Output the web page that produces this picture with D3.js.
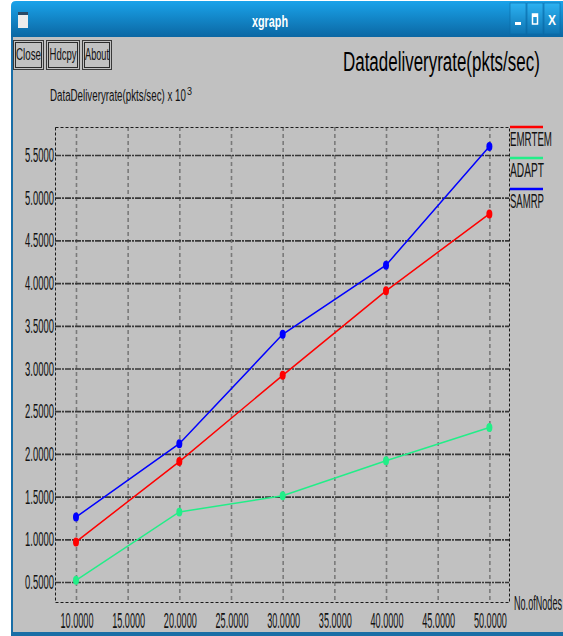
<!DOCTYPE html>
<html>
<head>
<meta charset="utf-8">
<script src="https://cdn.jsdelivr.net/npm/d3@7"></script>
<style>
  html, body { margin: 0; padding: 0; background: #fff; }
  svg { display: block; }
  text { font-family: "Liberation Sans", Arial, sans-serif; }
</style>
</head>
<body>
<div id="chart"></div>
<script>
// ---- data ----
const nodes = [10, 20, 30, 40, 50];
const emrtem = [0.97, 1.91, 2.92, 3.91, 4.81];
const adapt = [0.52, 1.32, 1.51, 1.92, 2.31];
const samrp = [1.26, 2.12, 3.40, 4.21, 5.60];
const seriesNames = ["EMRTEM", "ADAPT", "SAMRP"];
const seriesColors = ["#ff0000", "#22ee88", "#0000ff"];
const xTicks = [10, 15, 20, 25, 30, 35, 40, 45, 50];
const yTicks = [0.5, 1.0, 1.5, 2.0, 2.5, 3.0, 3.5, 4.0, 4.5, 5.0, 5.5];

const W = 563, H = 636;
const plot = { left: 55, right: 509, top: 127, bottom: 602 };

const svg = d3.select("#chart").append("svg")
  .attr("width", W).attr("height", H);

// xgraph uses a narrow bitmap font: draw normal text and squeeze it horizontally
function narrowText(parent, x, y, str, size, width, anchor = "start", color = "#111", weight = "normal") {
  const t = parent.append("text")
    .attr("text-anchor", anchor)
    .attr("font-size", size)
    .attr("font-weight", weight)
    .attr("fill", color)
    .text(str);
  const w = t.node().getComputedTextLength();
  t.attr("transform", `translate(${x},${y}) scale(${width / w},1)`);
  return t;
}

// ========== window frame ==========
const defs = svg.append("defs");
const tg = defs.append("linearGradient").attr("id", "titlebar")
  .attr("x1", 0).attr("y1", 0).attr("x2", 0).attr("y2", 1);
tg.append("stop").attr("offset", "0%").attr("stop-color", "#1aa3ea");
tg.append("stop").attr("offset", "100%").attr("stop-color", "#0b67a3");
const bg = defs.append("linearGradient").attr("id", "tbbtn")
  .attr("x1", 0).attr("y1", 0).attr("x2", 0).attr("y2", 1);
bg.append("stop").attr("offset", "0%").attr("stop-color", "#2cb2f2");
bg.append("stop").attr("offset", "100%").attr("stop-color", "#0e74b2");

svg.append("rect").attr("x", 11).attr("y", 36).attr("width", W - 11).attr("height", H - 36)
  .attr("fill", "#1a6ea6");
svg.append("rect").attr("x", 13).attr("y", 37).attr("width", W - 13).attr("height", 595)
  .attr("fill", "#c1c1c1");
svg.append("path")
  .attr("d", `M11,37 L11,6 Q11,1 16,1 L${W},1 L${W},37 Z`)
  .attr("fill", "url(#titlebar)");

// title bar widgets
svg.append("rect").attr("x", 18).attr("y", 12).attr("width", 10).attr("height", 16).attr("fill", "#ececec");
svg.append("rect").attr("x", 18).attr("y", 12).attr("width", 10).attr("height", 3).attr("fill", "#2a4a66");
narrowText(svg, 270, 27, "xgraph", 17, 36, "middle", "#fff", "bold");
[510, 527, 544].forEach(bx => {
  svg.append("rect").attr("x", bx).attr("y", 3).attr("width", 16).attr("height", 31)
    .attr("fill", "url(#tbbtn)").attr("stroke", "#0d6aa5").attr("stroke-width", 0.6);
});
svg.append("rect").attr("x", 515).attr("y", 22).attr("width", 6).attr("height", 3).attr("fill", "#fff");
svg.append("rect").attr("x", 532.5).attr("y", 14).attr("width", 5).attr("height", 10)
  .attr("fill", "none").attr("stroke", "#fff").attr("stroke-width", 1.5);
svg.append("rect").attr("x", 532.5).attr("y", 14).attr("width", 5).attr("height", 3).attr("fill", "#fff");
narrowText(svg, 552, 25, "X", 14, 8, "middle", "#fff", "bold");

// ========== xgraph buttons ==========
const buttons = [
  { label: "Close", x: 13, w: 30, tl: 25 },
  { label: "Hdcpy", x: 46, w: 33, tl: 27 },
  { label: "About", x: 82, w: 29, tl: 24 }
];
buttons.forEach(b => {
  svg.append("rect").attr("x", b.x + 0.5).attr("y", 40.5).attr("width", b.w).attr("height", 29)
    .attr("fill", "none").attr("stroke", "#3a3a3a");
  svg.append("rect").attr("x", b.x + 2.5).attr("y", 42.5).attr("width", b.w - 4).attr("height", 25)
    .attr("fill", "none").attr("stroke", "#2a2a2a");
  narrowText(svg, b.x + b.w / 2 + 0.5, 60, b.label, 16, b.tl, "middle");
});

// ========== titles ==========
narrowText(svg, 343, 71, "Datadeliveryrate(pkts/sec)", 28, 197, "start", "#000");
narrowText(svg, 50, 101, "DataDeliveryrate(pkts/sec) x 10", 17, 136);
narrowText(svg, 187, 95, "3", 11, 5);

// ========== scales ==========
const x = d3.scaleLinear().domain([7.97, 51.9]).range([plot.left, plot.right]);
const y = d3.scaleLinear().domain([0.266, 5.828]).range([plot.bottom, plot.top]);
const fmt = d3.format(".4f");

// vertical grid (light gray dashes)
svg.append("g")
  .attr("transform", `translate(0,${plot.top})`)
  .call(d3.axisBottom(x).tickValues(xTicks).tickSize(plot.bottom - plot.top).tickFormat(""))
  .call(g => g.select(".domain").remove())
  .call(g => g.selectAll("line")
    .attr("stroke", "#7a7a7a").attr("stroke-width", 1.6).attr("stroke-dasharray", "4,3"));

// horizontal grid (dark dash-dot)
svg.append("g")
  .attr("transform", `translate(${plot.left},0)`)
  .call(d3.axisRight(y).tickValues(yTicks).tickSize(plot.right - plot.left).tickFormat(""))
  .call(g => g.select(".domain").remove())
  .call(g => g.selectAll("line")
    .attr("stroke", "#383838").attr("stroke-width", 1.7).attr("stroke-dasharray", "6,1,2,1"));

// plot frame
svg.append("rect")
  .attr("x", plot.left + 0.5).attr("y", plot.top + 0.5)
  .attr("width", plot.right - plot.left).attr("height", plot.bottom - plot.top)
  .attr("fill", "none").attr("stroke", "#1a1a1a").attr("stroke-width", 1)
  .attr("stroke-dasharray", "3,2");

// tick labels
const yLab = svg.append("g");
yTicks.forEach(d => narrowText(yLab, 54, y(d) + 7, fmt(d), 20, 29, "end"));

const xLab = svg.append("g");
xTicks.forEach(d => narrowText(xLab, x(d) + 1, 628, fmt(d), 22, 33, "middle"));

// x axis name, squeezed so it stays inside the window
narrowText(svg, 514, 610, "No.ofNodes", 21, 48);

// ========== series ==========
const seriesData = [emrtem, adapt, samrp];
const line = d3.line().x((d, i) => x(nodes[i])).y(d => y(d));

seriesData.forEach((vals, s) => {
  svg.append("path").datum(vals)
    .attr("d", line)
    .attr("fill", "none")
    .attr("stroke", seriesColors[s])
    .attr("stroke-width", 1.5);
  svg.append("g").selectAll("ellipse").data(vals).enter().append("ellipse")
    .attr("cx", (d, i) => x(nodes[i]))
    .attr("cy", d => y(d))
    .attr("rx", 3).attr("ry", 4.5)
    .attr("fill", seriesColors[s]);
});

// ========== legend ==========
const legendY = [127, 158, 189];
seriesNames.forEach((name, i) => {
  svg.append("line")
    .attr("x1", 510).attr("x2", 543)
    .attr("y1", legendY[i]).attr("y2", legendY[i])
    .attr("stroke", seriesColors[i]).attr("stroke-width", 2.5);
  narrowText(svg, 510, legendY[i] + 19, name, 21, i === 0 ? 42 : 34);
});
</script>
</body>
</html>
